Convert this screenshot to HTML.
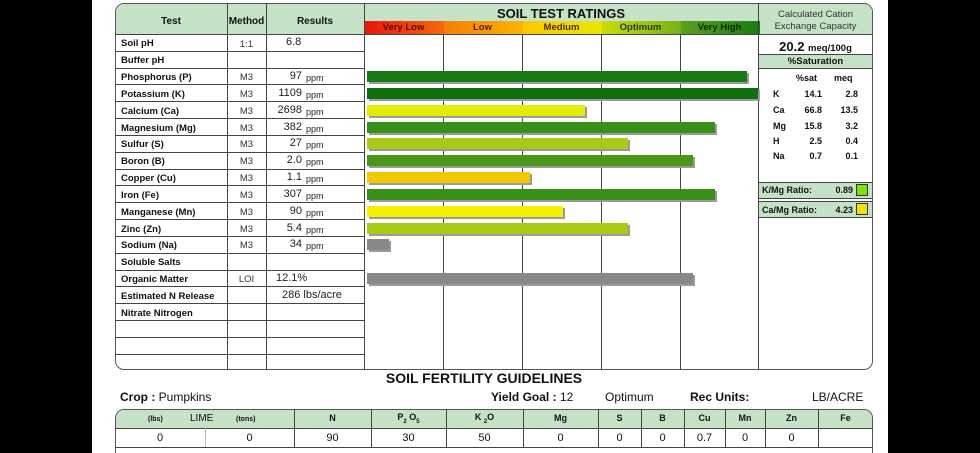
<!DOCTYPE html>
<html style="width:980px;height:453px;overflow:hidden"><head><meta charset="utf-8"><style>
*{margin:0;padding:0;box-sizing:border-box}
body{width:980px;height:453px;background:#000;position:relative;overflow:hidden;font-family:"Liberation Sans",Arial,sans-serif;color:#111}
.a{position:absolute}
.hl{position:absolute;height:1px;background:#444}
.vl{position:absolute;width:1px;background:#444}
.g{background:#c6e2c6}
.lb{position:absolute;left:121px;font-size:9.5px;font-weight:bold}
.me{position:absolute;left:227px;width:39px;text-align:center;font-size:9.5px;color:#333}
.rs{position:absolute;left:262px;width:40px;text-align:right;font-size:11px;color:#222}
.pp{position:absolute;left:306px;font-size:9px;color:#222}
.bar{position:absolute;left:367px;height:11px;box-shadow:2px 2px 0 #9a9a9a}
.sc{position:absolute;font-size:9px;font-weight:bold}
.bt{position:absolute;font-size:10px;text-align:center}
</style></head><body>
<div class="a" style="left:92px;top:0;width:796px;height:453px;background:#fff"></div>

<div class="a" style="left:115px;top:3px;width:758px;height:367px;border:1.5px solid #555;border-radius:9px;overflow:hidden">
  <div class="a g" style="left:0;top:0;width:758px;height:31px"></div>
  <div class="a" style="left:249px;top:17px;width:79px;height:14px;background:linear-gradient(90deg,#e8160c,#f46a0a)"></div>
  <div class="a" style="left:328px;top:17px;width:79px;height:14px;background:linear-gradient(90deg,#f67e08,#fbb400)"></div>
  <div class="a" style="left:407px;top:17px;width:79px;height:14px;background:linear-gradient(90deg,#fcc800,#e8e600)"></div>
  <div class="a" style="left:486px;top:17px;width:79px;height:14px;background:linear-gradient(90deg,#c8dc10,#78b018)"></div>
  <div class="a" style="left:565px;top:17px;width:79px;height:14px;background:linear-gradient(90deg,#5aa020,#1c7a14)"></div>
</div>
<div class="a" style="left:115px;top:16px;width:112px;text-align:center;font-size:10px;font-weight:bold">Test</div>
<div class="a" style="left:227px;top:16px;width:39px;text-align:center;font-size:10px;font-weight:bold">Method</div>
<div class="a" style="left:266px;top:16px;width:98px;text-align:center;font-size:10px;font-weight:bold">Results</div>
<div class="a" style="left:364px;top:6px;width:394px;text-align:center;font-size:13px;font-weight:bold">SOIL TEST RATINGS</div>
<div class="a" style="left:364px;top:22px;width:79px;text-align:center;font-size:9.5px;font-weight:bold;color:#5a0800">Very Low</div>
<div class="a" style="left:443px;top:22px;width:79px;text-align:center;font-size:9.5px;font-weight:bold;color:#5a2000">Low</div>
<div class="a" style="left:522px;top:22px;width:79px;text-align:center;font-size:9.5px;font-weight:bold;color:#4a3000">Medium</div>
<div class="a" style="left:601px;top:22px;width:79px;text-align:center;font-size:9.5px;font-weight:bold;color:#2a3a00">Optimum</div>
<div class="a" style="left:680px;top:22px;width:79px;text-align:center;font-size:9.5px;font-weight:bold;color:#0a2a00">Very High</div>
<div class="a" style="left:758px;top:9px;width:115px;text-align:center;font-size:9.5px;color:#333;line-height:12px">Calculated Cation<br>Exchange Capacity</div>

<div class="vl" style="left:227px;top:3px;height:367px"></div>
<div class="vl" style="left:266px;top:3px;height:367px"></div>
<div class="vl" style="left:364px;top:3px;height:367px"></div>
<div class="vl" style="left:758px;top:3px;height:367px"></div>
<div class="vl" style="left:443px;top:34px;height:336px"></div>
<div class="vl" style="left:522px;top:34px;height:336px"></div>
<div class="vl" style="left:601px;top:34px;height:336px"></div>
<div class="vl" style="left:680px;top:34px;height:336px"></div>
<div class="hl" style="left:115px;top:34px;width:758px"></div>

<div class="hl" style="left:115px;top:51px;width:249px"></div>
<div class="hl" style="left:115px;top:68px;width:249px"></div>
<div class="hl" style="left:115px;top:84px;width:249px"></div>
<div class="hl" style="left:115px;top:101px;width:249px"></div>
<div class="hl" style="left:115px;top:118px;width:249px"></div>
<div class="hl" style="left:115px;top:135px;width:249px"></div>
<div class="hl" style="left:115px;top:152px;width:249px"></div>
<div class="hl" style="left:115px;top:169px;width:249px"></div>
<div class="hl" style="left:115px;top:185px;width:249px"></div>
<div class="hl" style="left:115px;top:202px;width:249px"></div>
<div class="hl" style="left:115px;top:219px;width:249px"></div>
<div class="hl" style="left:115px;top:236px;width:249px"></div>
<div class="hl" style="left:115px;top:253px;width:249px"></div>
<div class="hl" style="left:115px;top:270px;width:249px"></div>
<div class="hl" style="left:115px;top:286px;width:249px"></div>
<div class="hl" style="left:115px;top:303px;width:249px"></div>
<div class="hl" style="left:115px;top:320px;width:249px"></div>
<div class="hl" style="left:115px;top:337px;width:249px"></div>
<div class="hl" style="left:115px;top:354px;width:249px"></div>

<div class="lb" style="top:38px">Soil pH</div><div class="me" style="top:39px">1:1</div><div class="rs" style="top:36px;left:286px;text-align:left">6.8</div>
<div class="lb" style="top:55px">Buffer pH</div>
<div class="lb" style="top:72px">Phosphorus (P)</div><div class="me" style="top:72px">M3</div><div class="rs" style="top:70px">97</div><div class="pp" style="top:73px">ppm</div>
<div class="lb" style="top:89px">Potassium (K)</div><div class="me" style="top:89px">M3</div><div class="rs" style="top:87px">1109</div><div class="pp" style="top:90px">ppm</div>
<div class="lb" style="top:106px">Calcium (Ca)</div><div class="me" style="top:106px">M3</div><div class="rs" style="top:104px">2698</div><div class="pp" style="top:107px">ppm</div>
<div class="lb" style="top:123px">Magnesium (Mg)</div><div class="me" style="top:123px">M3</div><div class="rs" style="top:121px">382</div><div class="pp" style="top:124px">ppm</div>
<div class="lb" style="top:139px">Sulfur (S)</div><div class="me" style="top:139px">M3</div><div class="rs" style="top:137px">27</div><div class="pp" style="top:140px">ppm</div>
<div class="lb" style="top:156px">Boron (B)</div><div class="me" style="top:156px">M3</div><div class="rs" style="top:154px">2.0</div><div class="pp" style="top:157px">ppm</div>
<div class="lb" style="top:173px">Copper (Cu)</div><div class="me" style="top:173px">M3</div><div class="rs" style="top:171px">1.1</div><div class="pp" style="top:174px">ppm</div>
<div class="lb" style="top:190px">Iron (Fe)</div><div class="me" style="top:190px">M3</div><div class="rs" style="top:188px">307</div><div class="pp" style="top:191px">ppm</div>
<div class="lb" style="top:207px">Manganese (Mn)</div><div class="me" style="top:207px">M3</div><div class="rs" style="top:205px">90</div><div class="pp" style="top:208px">ppm</div>
<div class="lb" style="top:224px">Zinc (Zn)</div><div class="me" style="top:224px">M3</div><div class="rs" style="top:222px">5.4</div><div class="pp" style="top:225px">ppm</div>
<div class="lb" style="top:240px">Sodium (Na)</div><div class="me" style="top:240px">M3</div><div class="rs" style="top:238px">34</div><div class="pp" style="top:241px">ppm</div>
<div class="lb" style="top:257px">Soluble Salts</div>
<div class="lb" style="top:274px">Organic Matter</div><div class="me" style="top:274px">LOI</div><div class="rs" style="top:272px;left:276px;text-align:left">12.1%</div>
<div class="lb" style="top:291px">Estimated N Release</div><div class="rs" style="top:289px;left:282px;width:80px;text-align:left">286 lbs/acre</div>
<div class="lb" style="top:308px">Nitrate Nitrogen</div>

<div class="bar" style="top:71px;width:380px;background:#187a16"></div>
<div class="bar" style="top:88px;width:391px;background:#0e6e10"></div>
<div class="bar" style="top:105px;width:218px;background:#e2ec04"></div>
<div class="bar" style="top:122px;width:348px;background:#3a8e1a"></div>
<div class="bar" style="top:138px;width:261px;background:#a8cc14"></div>
<div class="bar" style="top:155px;width:326px;background:#4a9618"></div>
<div class="bar" style="top:172px;width:163px;background:#f2c800"></div>
<div class="bar" style="top:189px;width:348px;background:#3a8e1a"></div>
<div class="bar" style="top:206px;width:196px;background:#f4f000"></div>
<div class="bar" style="top:223px;width:261px;background:#a8cc14"></div>
<div class="bar" style="top:239px;width:22px;background:#888"></div>
<div class="bar" style="top:273px;width:326px;background:#888"></div>

<div class="a" style="left:758px;top:39px;width:115px;text-align:center;font-size:13px;font-weight:bold">20.2 <span style="font-size:9.5px">meq/100g</span></div>
<div class="hl" style="left:758px;top:54px;width:115px"></div>
<div class="a g" style="left:759px;top:55px;width:113px;height:13px"></div>
<div class="a" style="left:758px;top:56px;width:115px;text-align:center;font-size:9.5px;font-weight:bold">%Saturation</div>
<div class="hl" style="left:758px;top:68px;width:115px"></div>
<div class="sc" style="left:796px;top:73px">%sat</div><div class="sc" style="left:834px;top:73px">meq</div>
<div class="sc" style="left:773px;top:89px">K</div><div class="sc" style="left:790px;top:89px;width:32px;text-align:right">14.1</div><div class="sc" style="left:830px;top:89px;width:28px;text-align:right">2.8</div>
<div class="sc" style="left:773px;top:105px">Ca</div><div class="sc" style="left:790px;top:105px;width:32px;text-align:right">66.8</div><div class="sc" style="left:830px;top:105px;width:28px;text-align:right">13.5</div>
<div class="sc" style="left:773px;top:121px">Mg</div><div class="sc" style="left:790px;top:121px;width:32px;text-align:right">15.8</div><div class="sc" style="left:830px;top:121px;width:28px;text-align:right">3.2</div>
<div class="sc" style="left:773px;top:136px">H</div><div class="sc" style="left:790px;top:136px;width:32px;text-align:right">2.5</div><div class="sc" style="left:830px;top:136px;width:28px;text-align:right">0.4</div>
<div class="sc" style="left:773px;top:151px">Na</div><div class="sc" style="left:790px;top:151px;width:32px;text-align:right">0.7</div><div class="sc" style="left:830px;top:151px;width:28px;text-align:right">0.1</div>
<div class="a g" style="left:759px;top:182px;width:113px;height:17px;border-top:1px solid #444;border-bottom:1px solid #444"></div>
<div class="sc" style="left:762px;top:185px">K/Mg Ratio:</div><div class="sc" style="left:825px;top:185px;width:28px;text-align:right">0.89</div>
<div class="a" style="left:856px;top:184px;width:12px;height:12px;background:#7ee000;border:1px solid #333"></div>
<div class="a g" style="left:759px;top:201px;width:113px;height:17px;border-top:1px solid #444;border-bottom:1px solid #444"></div>
<div class="sc" style="left:762px;top:205px">Ca/Mg Ratio:</div><div class="sc" style="left:825px;top:205px;width:28px;text-align:right">4.23</div>
<div class="a" style="left:856px;top:203px;width:12px;height:12px;background:#f2e200;border:1px solid #333"></div>

<div class="a" style="left:364px;top:370px;width:240px;text-align:center;font-size:14px;font-weight:bold">SOIL FERTILITY GUIDELINES</div>
<div class="a" style="left:120px;top:390px;font-size:12px"><b>Crop :</b> Pumpkins</div>
<div class="a" style="left:491px;top:390px;font-size:12px"><b>Yield Goal :</b> 12</div>
<div class="a" style="left:605px;top:390px;font-size:12px">Optimum</div>
<div class="a" style="left:690px;top:390px;font-size:12px;font-weight:bold">Rec Units:</div>
<div class="a" style="left:812px;top:390px;font-size:12px">LB/ACRE</div>

<div class="a" style="left:115px;top:409px;width:758px;height:44px;border:1.5px solid #555;border-bottom:none;border-radius:9px 9px 0 0;overflow:hidden">
  <div class="a g" style="left:0;top:0;width:758px;height:19px"></div>
</div>
<div class="hl" style="left:115px;top:428px;width:758px"></div>
<div class="hl" style="left:115px;top:447px;width:758px"></div>
<div class="vl" style="left:205px;top:428px;height:19px;background:#bbb"></div>
<div class="vl" style="left:294px;top:409px;height:38px"></div>
<div class="vl" style="left:371px;top:409px;height:38px"></div>
<div class="vl" style="left:446px;top:409px;height:38px"></div>
<div class="vl" style="left:523px;top:409px;height:38px"></div>
<div class="vl" style="left:598px;top:409px;height:38px"></div>
<div class="vl" style="left:641px;top:409px;height:38px"></div>
<div class="vl" style="left:684px;top:409px;height:38px"></div>
<div class="vl" style="left:725px;top:409px;height:38px"></div>
<div class="vl" style="left:765px;top:409px;height:38px"></div>
<div class="vl" style="left:818px;top:409px;height:38px"></div>
<div class="bt" style="left:148px;top:416px;font-size:7px;font-weight:bold">(lbs)</div>
<div class="bt" style="left:190px;top:413px;font-size:10px">LIME</div>
<div class="bt" style="left:236px;top:416px;font-size:7px;font-weight:bold">(tons)</div>
<div class="bt" style="left:294px;top:413px;width:77px;font-weight:bold;font-size:9px">N</div>
<div class="bt" style="left:371px;top:412px;width:75px;font-weight:bold;font-size:9px">P<sub style="font-size:6px">2</sub> O<sub style="font-size:6px">5</sub></div>
<div class="bt" style="left:446px;top:412px;width:77px;font-weight:bold;font-size:9px">K <sub style="font-size:6px">2</sub>O</div>
<div class="bt" style="left:523px;top:413px;width:75px;font-weight:bold;font-size:9px">Mg</div>
<div class="bt" style="left:598px;top:413px;width:43px;font-weight:bold;font-size:9px">S</div>
<div class="bt" style="left:641px;top:413px;width:43px;font-weight:bold;font-size:9px">B</div>
<div class="bt" style="left:684px;top:413px;width:41px;font-weight:bold;font-size:9px">Cu</div>
<div class="bt" style="left:725px;top:413px;width:40px;font-weight:bold;font-size:9px">Mn</div>
<div class="bt" style="left:765px;top:413px;width:53px;font-weight:bold;font-size:9px">Zn</div>
<div class="bt" style="left:818px;top:413px;width:55px;font-weight:bold;font-size:9px">Fe</div>
<div class="bt" style="left:115px;top:432px;width:90px;font-size:11px">0</div>
<div class="bt" style="left:205px;top:432px;width:89px;font-size:11px">0</div>
<div class="bt" style="left:294px;top:432px;width:77px;font-size:11px">90</div>
<div class="bt" style="left:371px;top:432px;width:75px;font-size:11px">30</div>
<div class="bt" style="left:446px;top:432px;width:77px;font-size:11px">50</div>
<div class="bt" style="left:523px;top:432px;width:75px;font-size:11px">0</div>
<div class="bt" style="left:598px;top:432px;width:43px;font-size:11px">0</div>
<div class="bt" style="left:641px;top:432px;width:43px;font-size:11px">0</div>
<div class="bt" style="left:684px;top:432px;width:41px;font-size:11px">0.7</div>
<div class="bt" style="left:725px;top:432px;width:40px;font-size:11px">0</div>
<div class="bt" style="left:765px;top:432px;width:53px;font-size:11px">0</div>
</body></html>
